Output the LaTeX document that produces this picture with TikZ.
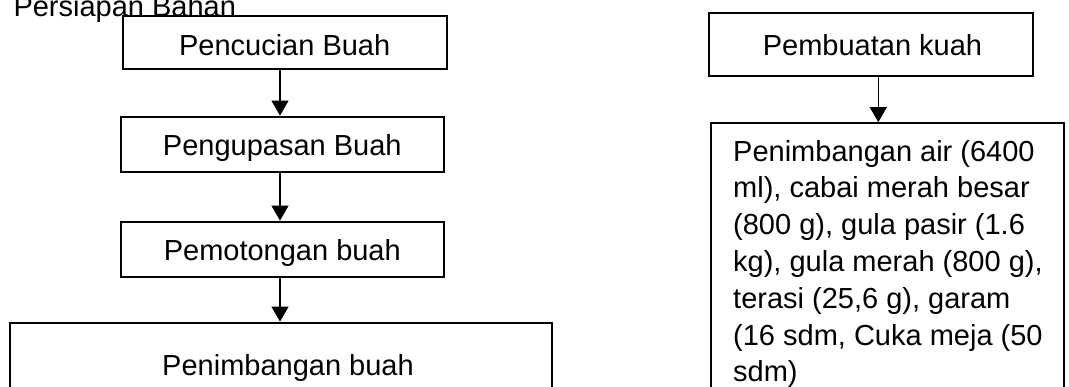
\documentclass[tikz,border=0pt]{standalone}
\usepackage{fontspec}
\setmainfont{Liberation Sans}
\usetikzlibrary{arrows.meta}
\begin{document}
\begin{tikzpicture}[x=1pt,y=-1pt,
  box/.style={draw,line width=2.2pt,inner sep=0pt},
  lbl/.style={inner sep=0pt,font=\fontsize{29}{36.8}\selectfont},
  arr/.style={draw,line width=1.1pt,-{Triangle[width=17pt,length=15pt]}}]
\useasboundingbox (0,0) rectangle (1069,386);
\clip (0,0) rectangle (1069,386);

% heading
\node[lbl,anchor=base west] (title) at (13.3,16.7) {Persiapan Bahan};

% left column: fruit preparation
\node[box,minimum width=324pt,minimum height=53pt] (b1) at (284.7,42.5) {};
\node[lbl,anchor=base] (t1) at (284.7,55) {Pencucian Buah};
\node[box,minimum width=323.3pt,minimum height=55pt] (b2) at (282.3,144.2) {};
\node[lbl,anchor=base] (t2) at (282.3,155) {Pengupasan Buah};
\node[box,minimum width=323.3pt,minimum height=55pt] (b3) at (282.3,249.2) {};
\node[lbl,anchor=base] (t3) at (282.3,260) {Pemotongan buah};
\node[box,minimum width=542pt,minimum height=157.3pt] (b4) at (281,401.35) {};
\node[lbl,anchor=base] (t4) at (288,375) {Penimbangan buah};

% right column: sauce
\node[box,minimum width=323.4pt,minimum height=62.7pt] (b5) at (871,44.7) {};
\node[lbl,anchor=base] (t5) at (872.5,55) {Pembuatan kuah};
\node[box,minimum width=353pt,minimum height=356.7pt] (b6) at (887.5,301.65) {};
% multi-line node: its base anchor sits on the last line
\node[lbl,anchor=base west,align=left] (t6) at (733,381.8)
  {Penimbangan air (6400\\ml), cabai merah besar\\(800 g), gula pasir (1.6\\kg), gula merah (800 g),\\terasi (25,6 g), garam\\(16 sdm, Cuka meja (50\\sdm)};

% connectors
\coordinate (cl) at (280,0);
\coordinate (cr) at (878.3,0);
\draw[arr] (b1.south -| cl) -- (b2.north -| cl);
\draw[arr] (b2.south -| cl) -- (b3.north -| cl);
\draw[arr] (b3.south -| cl) -- (b4.north -| cl);
\draw[arr] (b5.south -| cr) -- (b6.north -| cr);
\end{tikzpicture}
\end{document}
